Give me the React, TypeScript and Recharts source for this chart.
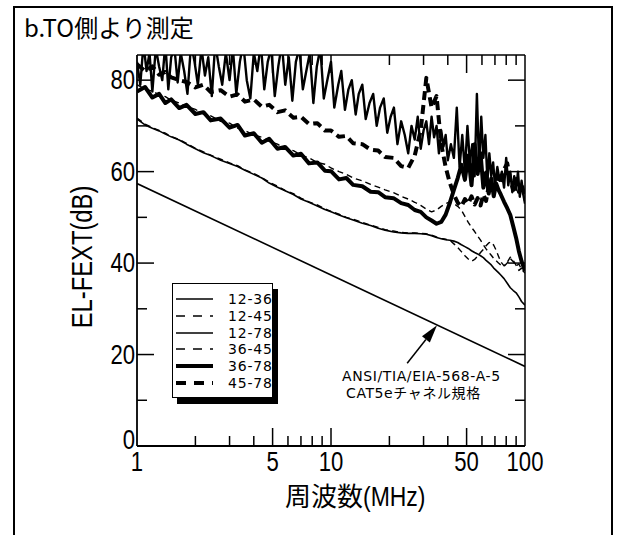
import { Line, LineChart, ReferenceLine, XAxis, YAxis } from "recharts";

// frequency points (MHz), shared by most measured pairs
const freqMHz = [
  1, 1.1, 1.2, 1.3, 1.4, 1.5, 1.65, 1.8, 2, 2.2, 2.4, 2.7, 3, 3.3, 3.6, 4, 4.4, 4.8, 5.3, 5.8, 6.4, 7, 7.7,
  8.5, 9.3, 10, 11, 12, 13, 14.5, 16, 17.5, 19, 21, 23, 25, 27, 29, 31, 33, 35, 37, 39, 41, 43, 45, 47, 49,
  51, 53, 55, 57, 59, 61, 63, 65, 67, 69, 71, 73, 75, 78, 81, 84, 87, 90, 93, 96, 100,
];

// denser sweep for the noisy 12-78 trace
const freqDense = [
  1, 1.04, 1.08, 1.12, 1.16, 1.2, 1.25, 1.3, 1.35, 1.4, 1.45, 1.5, 1.56, 1.62, 1.68, 1.75, 1.82, 1.9, 1.98,
  2.06, 2.15, 2.24, 2.33, 2.43, 2.53, 2.64, 2.75, 2.87, 3, 3.12, 3.25, 3.39, 3.53, 3.68, 3.84, 4, 4.17, 4.35,
  4.53, 4.72, 4.92, 5.13, 5.35, 5.58, 5.81, 6.06, 6.32, 6.59, 6.87, 7.16, 7.46, 7.78, 8.11, 8.45, 8.81, 9.18,
  9.57, 10, 10.4, 10.9, 11.3, 11.8, 12.3, 12.8, 13.4, 13.9, 14.5, 15.1, 15.8, 16.5, 17.2, 17.9, 18.7, 19.5,
  20.3, 21.1, 22, 23, 24, 25, 26, 27, 28, 29, 30, 31, 32, 33, 34, 35, 36, 37, 38, 39, 40, 41.5, 43, 44.5, 46,
  47.5, 49, 50.5, 52, 53.5, 55, 56.5, 58, 59.5, 61, 62.5, 64, 65.5, 67, 68.5, 70, 72, 74, 76, 78, 80, 82, 84,
  86, 88, 90, 92, 94, 96, 98, 100,
];

const pair1236 = [
  71.5, 70.2, 69.5, 68.9, 68.2, 67.6, 66.9, 66.0, 65.0, 64.1, 63.5, 62.5, 61.8, 61.1, 60.3, 59.4, 58.6, 57.5,
  56.6, 55.8, 55.0, 54.0, 53.3, 52.5, 51.7, 51.2, 50.5, 49.9, 49.4, 48.7, 48.2, 47.6, 47.2, 46.8, 46.6, 46.5,
  46.5, 46.4, 46.3, 46.0, 45.6, 45.3, 45.1, 45.0, 44.8, 44.5, 44.0, 43.6, 43.2, 42.7, 42.3, 42.0, 41.6, 41.2,
  40.6, 40.1, 39.6, 38.9, 38.4, 37.9, 37.4, 36.6, 35.6, 34.6, 34.0, 33.5, 32.6, 31.6, 30.8,
];

const pair1245 = [
  71.7, 70.4, 69.6, 69.0, 68.4, 67.7, 67.0, 66.2, 65.1, 64.3, 63.6, 62.7, 61.9, 61.3, 60.4, 59.6, 58.7, 57.7,
  56.8, 55.9, 55.2, 54.2, 53.4, 52.7, 51.9, 51.3, 50.7, 50.0, 49.6, 48.9, 48.3, 47.8, 47.3, 47.0, 46.7, 46.6,
  46.6, 46.5, 46.4, 46.1, 45.7, 45.4, 45.2, 45.0, 44.2, 43.4, 42.5, 41.6, 40.9, 40.4, 40.8, 41.5, 42.3, 43.0,
  43.8, 44.4, 44.6, 43.9, 42.8, 41.5, 40.3, 39.4, 40.2, 41.3, 40.6, 39.5, 38.4, 38.9, 38.2,
];

const pair1278 = [
  84, 79, 88, 82, 86, 77.5, 87, 83, 80, 88,
  78, 85, 87, 79.5, 86, 82, 77, 88, 84, 79,
  87, 81, 85, 76.5, 88, 83, 79, 86, 80, 87,
  77, 84, 88, 80, 76, 86, 82, 88, 78, 84,
  87, 76.5, 83, 88, 79, 85, 75.5, 84, 87, 78,
  82, 86, 75, 83, 87, 76, 80, 84, 74, 79,
  82, 73.5, 78, 80, 72.5, 77, 79, 71.5, 75, 77,
  70, 74, 76, 68.5, 72, 74, 66, 71, 68, 64,
  70, 67, 72, 65, 69, 71, 66, 72, 67.5, 70,
  64, 69, 65.5, 68, 62.5, 66, 63, 74, 61, 68,
  60, 70, 62, 66, 59, 77, 61, 72, 63, 68,
  58, 64, 59, 62, 57, 61, 58, 60, 56.5, 63,
  57, 60, 55.5, 59, 56, 60, 54.5, 58, 55, 53,
];

const pair3645 = [
  79.0, 78.0, 77.6, 76.8, 76.4, 75.6, 75.0, 74.2, 73.6, 72.6, 72.2, 71.0, 70.6, 69.5, 69.0, 68.0, 67.5, 66.6,
  66.0, 65.0, 64.6, 63.6, 63.0, 62.0, 61.6, 60.8, 60.0, 59.4, 58.6, 58.0, 57.2, 56.6, 56.0, 55.4, 54.6, 54.0,
  53.3, 52.6, 51.8, 51.2, 51.6, 52.4, 53.0, 53.4, 53.0, 52.4, 51.6, 50.2, 48.9, 47.8, 46.9, 45.9, 45.0, 44.0,
  43.1, 42.4, 41.7, 41.0, 40.5, 40.0, 39.6, 39.3, 40.0, 41.0, 40.3, 39.4, 39.8, 38.6, 37.8,
];

const pair3678 = [
  77.5, 78.5, 76.2, 77.0, 75.0, 75.8, 73.9, 74.6, 72.6, 73.0, 71.2, 71.6, 69.6, 70.2, 67.9, 68.4, 66.3, 67.2,
  65.0, 65.4, 63.5, 63.9, 61.8, 62.0, 60.2, 60.1, 58.3, 58.6, 57.1, 56.8, 55.6, 55.5, 54.4, 54.2, 53.1, 52.7,
  51.6, 51.2, 50.0, 49.3, 48.6, 49.0, 50.6, 53.2, 56.0, 58.6, 61.5, 58.2, 63.5, 57.0, 66.0, 59.5, 64.0, 56.5,
  59.8, 55.2, 58.5, 54.6, 57.4, 56.0, 55.0, 53.4, 52.0, 50.5, 48.0, 45.5, 42.6, 40.4, 38.3,
];

const pair4578 = [
  83.5, 82.0, 83.0, 81.2, 81.8, 80.6, 80.0, 79.6, 78.4, 79.0, 77.4, 77.8, 76.4, 76.9, 75.3, 75.8, 74.2, 74.6,
  73.0, 73.4, 71.8, 72.0, 70.4, 70.6, 69.0, 69.0, 67.6, 67.8, 66.2, 66.0, 64.8, 64.6, 63.2, 63.0, 61.2, 60.8,
  63.5, 69.0, 80.5, 74.0, 76.5, 66.0, 61.0, 57.5, 55.0, 53.2, 52.4, 54.0, 53.0, 54.6, 52.8, 54.2, 52.6, 55.0,
  53.6, 56.8, 55.4, 58.0, 56.2, 59.0, 57.4, 60.5, 61.8, 58.2, 56.0, 58.4, 55.6, 57.6, 53.8,
];

// ANSI/TIA/EIA-568-A-5 CAT5e channel limit
const specFreq = [1, 10, 100];
const specLimit = [57.4, 37.4, 17.4];

// annotation arrow, in chart units (MHz, dB)
const arrowFrom = { f: 24.7, v: 18.1 };
const arrowTo = { f: 35.2, v: 26.4 };

const xTicks = [1, 2, 3, 4, 5, 6, 7, 8, 9, 10, 20, 30, 40, 50, 60, 70, 80, 90, 100];
const xMajor = [5, 10, 50];
const xLabeled = [1, 5, 10, 50, 100];
const yTicks = [0, 10, 20, 30, 40, 50, 60, 70, 80];
const yLabeled = [0, 20, 40, 60, 80];

const series = [
  { name: "12-36", freq: freqMHz, values: pair1236, width: 1.6, dash: undefined },
  { name: "12-45", freq: freqMHz, values: pair1245, width: 1.4, dash: "6 4" },
  { name: "12-78", freq: freqDense, values: pair1278, width: 2.4, dash: undefined },
  { name: "36-45", freq: freqMHz, values: pair3645, width: 1.4, dash: "6 4" },
  { name: "36-78", freq: freqMHz, values: pair3678, width: 4, dash: undefined },
  { name: "45-78", freq: freqMHz, values: pair4578, width: 4, dash: "9 5" },
];

const SANS = "'Liberation Sans', Arial, sans-serif";
const JP = "'Noto Sans CJK JP', sans-serif";
const SQUEEZE = 0.82;

const specData = specFreq.map((f, i) => ({ f, v: specLimit[i] }));

function Num({ x, y, anchor, children }: any) {
  return (
    <text
      transform={`translate(${x},${y}) scale(${SQUEEZE},1)`}
      textAnchor={anchor}
      fontSize={27}
      fontFamily={SANS}
      fill="#000"
    >
      {children}
    </text>
  );
}

function BottomTick({ x, y, payload }: any) {
  const v = payload.value;
  const len = xMajor.includes(v) ? 18 : 10;
  return (
    <g>
      {v > 1 && v < 100 && <line x1={x} x2={x} y1={y} y2={y - len} stroke="#000" strokeWidth={1.5} />}
      {xLabeled.includes(v) && (
        <Num x={x} y={y + 25} anchor="middle">
          {v}
        </Num>
      )}
    </g>
  );
}

function TopTick({ x, y, payload }: any) {
  const v = payload.value;
  const len = xMajor.includes(v) ? 18 : 10;
  if (v <= 1 || v >= 100) return <g />;
  return <line x1={x} x2={x} y1={y} y2={y + len} stroke="#000" strokeWidth={1.5} />;
}

function LeftTick({ x, y, payload }: any) {
  const v = payload.value;
  const len = yLabeled.includes(v) ? 17 : 10;
  return (
    <g>
      {v > 0 && <line x1={x} x2={x + len} y1={y} y2={y} stroke="#000" strokeWidth={1.5} />}
      {yLabeled.includes(v) && (
        <Num x={x - 2} y={v === 0 ? y + 3 : y + 9} anchor="end">
          {v}
        </Num>
      )}
    </g>
  );
}

function RightTick({ x, y, payload }: any) {
  const v = payload.value;
  const len = yLabeled.includes(v) ? 17 : 10;
  if (v <= 0) return <g />;
  return <line x1={x} x2={x - len} y1={y} y2={y} stroke="#000" strokeWidth={1.5} />;
}

function Arrow({ x1, y1, x2, y2 }: any) {
  const ang = Math.atan2(y2 - y1, x2 - x1);
  const hl = 18;
  const hw = 5;
  const bx = x2 - hl * Math.cos(ang);
  const by = y2 - hl * Math.sin(ang);
  const px = -Math.sin(ang) * hw;
  const py = Math.cos(ang) * hw;
  return (
    <g>
      <line x1={x1} y1={y1} x2={bx} y2={by} stroke="#000" strokeWidth={1.5} />
      <polygon points={`${x2},${y2} ${bx + px},${by + py} ${bx - px},${by - py}`} fill="#000" />
    </g>
  );
}

export default function App() {
  return (
    <div style={{ position: "absolute", left: 0, top: 0, width: 620, height: 535, background: "#fff", overflow: "hidden" }}>
      <div
        style={{
          position: "absolute",
          left: 13,
          top: 6,
          width: 596,
          height: 560,
          border: "2.5px solid #000",
        }}
      />
      <div style={{ position: "absolute", left: 24, top: 15, fontSize: 24, lineHeight: "24px", fontFamily: JP }}>
        b.TO側より測定
      </div>

      <div style={{ position: "absolute", left: 0, top: 0 }}>
        <LineChart width={620} height={535} margin={{ top: 45, right: 85, bottom: 49, left: 77 }}>
          <XAxis
            xAxisId="b"
            dataKey="f"
            type="number"
            scale="log"
            domain={[1, 100]}
            allowDataOverflow
            ticks={xTicks}
            interval={0}
            height={40}
            tickSize={0}
            tickMargin={0}
            tickLine={false}
            axisLine={{ stroke: "#000", strokeWidth: 1.8 }}
            tick={BottomTick}
          />
          <XAxis
            xAxisId="t"
            orientation="top"
            dataKey="f"
            type="number"
            scale="log"
            domain={[1, 100]}
            allowDataOverflow
            ticks={xTicks}
            interval={0}
            height={10}
            tickSize={0}
            tickMargin={0}
            tickLine={false}
            axisLine={{ stroke: "#000", strokeWidth: 1.5 }}
            tick={TopTick}
          />
          <YAxis
            yAxisId="l"
            type="number"
            domain={[0, 85.5]}
            allowDataOverflow
            ticks={yTicks}
            interval={0}
            width={60}
            tickSize={0}
            tickMargin={0}
            tickLine={false}
            axisLine={{ stroke: "#000", strokeWidth: 1.8 }}
            tick={LeftTick}
          />
          <YAxis
            yAxisId="r"
            orientation="right"
            type="number"
            domain={[0, 85.5]}
            allowDataOverflow
            ticks={yTicks}
            interval={0}
            width={10}
            tickSize={0}
            tickMargin={0}
            tickLine={false}
            axisLine={{ stroke: "#000", strokeWidth: 1.5 }}
            tick={RightTick}
          />
          <Line
            xAxisId="t"
            yAxisId="r"
            data={specData}
            dataKey="v"
            stroke="none"
            dot={false}
            legendType="none"
            isAnimationActive={false}
          />
          <Line
            xAxisId="b"
            yAxisId="l"
            data={specData}
            dataKey="v"
            type="linear"
            stroke="#000"
            strokeWidth={1.6}
            dot={false}
            isAnimationActive={false}
          />
          {series.map((s) => (
            <Line
              key={s.name}
              xAxisId="b"
              yAxisId="l"
              name={s.name}
              data={s.freq.map((f, i) => ({ f, v: s.values[i] }))}
              dataKey="v"
              type="linear"
              stroke="#000"
              strokeWidth={s.width}
              strokeDasharray={s.dash}
              strokeLinejoin="round"
              dot={false}
              isAnimationActive={false}
            />
          ))}
          <ReferenceLine
            xAxisId="b"
            yAxisId="l"
            segment={[
              { x: arrowFrom.f, y: arrowFrom.v },
              { x: arrowTo.f, y: arrowTo.v },
            ]}
            shape={Arrow}
          />
        </LineChart>
      </div>

      {/* legend */}
      <div
        style={{
          position: "absolute",
          left: 172,
          top: 283,
          width: 101,
          height: 115,
          boxSizing: "border-box",
          border: "1px solid #000",
          background: "#fff",
          boxShadow: "5px 6px 0 #000",
        }}
      >
        {series.map((s, i) => (
          <div
            key={s.name}
            style={{
              position: "absolute",
              left: 2,
              top: 7 + i * 16.8,
              height: 16,
              display: "flex",
              alignItems: "center",
              whiteSpace: "nowrap",
            }}
          >
            <svg width={40} height={8} style={{ flex: "none" }}>
              <line
                x1={1}
                x2={38}
                y1={4}
                y2={4}
                stroke="#000"
                strokeWidth={s.width > 3 ? 4 : 1.5}
                strokeDasharray={s.dash ? (s.width > 2 ? "10 8" : "9 8") : undefined}
              />
            </svg>
            <span style={{ marginLeft: 13, fontSize: 14, letterSpacing: 0.8, fontFamily: "'DejaVu Sans', sans-serif", lineHeight: "16px" }}>
              {s.name}
            </span>
          </div>
        ))}
      </div>

      {/* annotation text */}
      <div
        style={{
          position: "absolute",
          left: 342,
          top: 368,
          fontSize: 14,
          lineHeight: "17px",
          letterSpacing: 0.6,
          fontFamily: "'DejaVu Sans', 'Noto Sans CJK JP', sans-serif",
          whiteSpace: "nowrap",
        }}
      >
        <div>ANSI/TIA/EIA-568-A-5</div>
        <div style={{ marginLeft: 4 }}>CAT5eチャネル規格</div>
      </div>

      {/* axis titles */}
      <div
        style={{
          position: "absolute",
          left: 82,
          top: 257,
          transform: `translate(-50%, -50%) rotate(-90deg) scale(${SQUEEZE}, 1)`,
          fontSize: 29,
          lineHeight: "29px",
          fontFamily: SANS,
          whiteSpace: "nowrap",
        }}
      >
        EL-FEXT(dB)
      </div>
      <div style={{ position: "absolute", left: 285, top: 481, whiteSpace: "nowrap", lineHeight: "27px" }}>
        <span style={{ fontSize: 26, fontFamily: JP }}>周波数</span>
        <span
          style={{
            display: "inline-block",
            fontSize: 28,
            fontFamily: SANS,
            transform: `scale(${SQUEEZE}, 1)`,
            transformOrigin: "left center",
          }}
        >
          (MHz)
        </span>
      </div>
    </div>
  );
}
